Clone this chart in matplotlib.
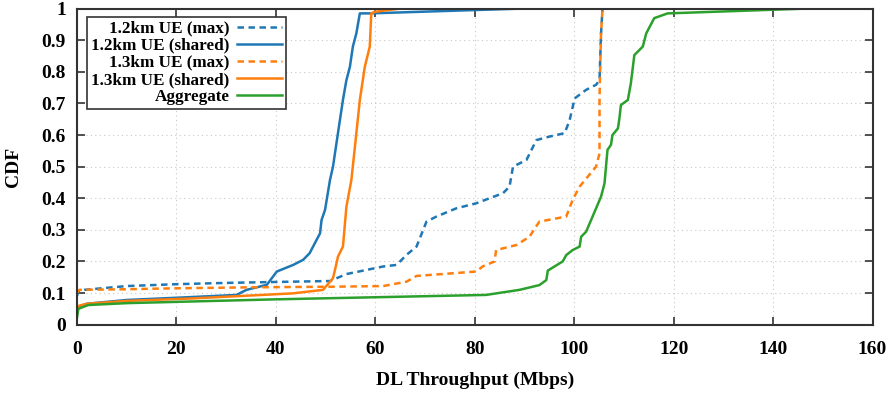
import matplotlib
matplotlib.use('Agg')
import matplotlib.pyplot as plt
from matplotlib.ticker import FuncFormatter

plt.rcParams['font.family'] = ['Liberation Serif', 'DejaVu Serif']

# 1.2km UE (max)
ue12_max_x = [0, 0.3, 1.5, 10, 20, 30, 40, 50.9, 54.2, 61.6, 64.3, 66.3, 68.3, 70.3, 72.3,
              76.3, 80.3, 85.7, 87.0, 87.7, 90.4, 92.4, 95.0, 98.1, 99.1, 100.1, 102.4,
              104.4, 105.1, 105.4, 105.7]
ue12_max_y = [0.09, 0.105, 0.11, 0.122, 0.128, 0.132, 0.135, 0.138, 0.160, 0.184, 0.189,
              0.221, 0.247, 0.326, 0.342, 0.368, 0.384, 0.416, 0.437, 0.500, 0.521, 0.584,
              0.595, 0.606, 0.648, 0.716, 0.743, 0.759, 0.774, 0.922, 1.0]

# 1.2km UE (shared)
ue12_sh_x = [0, 0.5, 2, 10, 20, 32.1, 34.1, 38.2, 40.2, 43.5, 45.5, 46.8, 48.9, 49.2, 49.9,
             50.9, 51.5, 52.5, 53.5, 54.2, 54.9, 55.5, 56.2, 56.9, 58.9, 89.0]
ue12_sh_y = [0.046, 0.058, 0.066, 0.078, 0.085, 0.094, 0.110, 0.126, 0.168, 0.189, 0.205,
             0.226, 0.289, 0.331, 0.363, 0.458, 0.500, 0.606, 0.711, 0.774, 0.816, 0.880,
             0.922, 0.985, 0.985, 1.0]

# 1.3km UE (max)
ue13_max_x = [0, 0.5, 10, 20, 34.8, 51.5, 61.6, 66.3, 68.3, 80.3, 81.6, 84.0, 84.3, 88.4,
              91.0, 93.0, 98.4, 99.7, 101.1, 104.4, 105.1, 105.1, 105.4, 105.7]
ue13_max_y = [0.10, 0.11, 0.112, 0.115, 0.118, 0.120, 0.122, 0.136, 0.154, 0.168, 0.184,
              0.200, 0.236, 0.252, 0.278, 0.326, 0.342, 0.395, 0.437, 0.500, 0.542, 0.72,
              0.922, 1.0]

# 1.3km UE (shared)
ue13_sh_x = [0, 0.5, 2, 10, 23.4, 43.5, 49.5, 51.5, 51.9, 52.5, 53.5, 54.2, 55.2, 56.2,
             56.9, 57.9, 58.9, 59.2, 59.9, 64.9]
ue13_sh_y = [0.05, 0.06, 0.066, 0.075, 0.083, 0.099, 0.110, 0.147, 0.173, 0.215, 0.247,
             0.373, 0.458, 0.606, 0.711, 0.816, 0.880, 0.985, 0.99, 1.0]

# Aggregate
agg_x = [0, 0.3, 2.3, 10, 40, 82.3, 89.0, 93.0, 94.4, 94.7, 97.7, 98.4, 99.7, 101.1, 101.4,
         102.4, 103.7, 104.7, 105.4, 106.1, 106.4, 106.7, 107.4, 107.7, 108.8, 109.1,
         109.4, 110.8, 111.4, 112.1, 113.8, 114.5, 116.1, 118.8, 146.2]
agg_y = [0.02, 0.05, 0.062, 0.068, 0.080, 0.094, 0.110, 0.125, 0.141, 0.171, 0.200, 0.220,
         0.236, 0.247, 0.278, 0.294, 0.342, 0.379, 0.405, 0.447, 0.500, 0.553, 0.569,
         0.600, 0.621, 0.653, 0.695, 0.711, 0.764, 0.853, 0.880, 0.922, 0.970, 0.985, 1.0]

blue = '#1f77b4'
orange = '#ff7f0e'
green = '#2ca02c'

fig = plt.figure(figsize=(8.94, 3.93), dpi=100)
ax = fig.add_axes([0.086, 0.174, 0.890, 0.804])

lw = 1.8
dash = (0, (2.6, 1.8))
ax.plot(ue12_max_x, ue12_max_y, color=blue, lw=lw, linestyle=dash, label='1.2km UE (max)')
ax.plot(ue12_sh_x, ue12_sh_y, color=blue, lw=lw, label='1.2km UE (shared)')
ax.plot(ue13_max_x, ue13_max_y, color=orange, lw=lw, linestyle=dash, label='1.3km UE (max)')
ax.plot(ue13_sh_x, ue13_sh_y, color=orange, lw=lw, label='1.3km UE (shared)')
ax.plot(agg_x, agg_y, color=green, lw=lw, label='Aggregate')

ax.set_xlim(0, 160)
ax.set_ylim(0, 1)
ax.set_xticks(range(0, 161, 20))
ax.set_yticks([i / 10 for i in range(11)])
ax.yaxis.set_major_formatter(FuncFormatter(lambda v, p: '%g' % v))
ax.grid(True, color='#c8c8c8', linestyle=(0, (1, 3)), linewidth=0.8)
ax.tick_params(direction='in', length=6, width=1.2, top=True, right=True,
               labelsize=14, colors='#333333')
ax.tick_params(axis='x', pad=12)
ax.tick_params(axis='y', pad=8)
for lab in ax.get_xticklabels() + ax.get_yticklabels():
    lab.set_fontweight('bold')
    lab.set_color('black')
for s in ax.spines.values():
    s.set_linewidth(1.5)
    s.set_color('#333333')

ax.set_xlabel('DL Throughput (Mbps)', fontsize=14, fontweight='bold', labelpad=10)
ax.set_ylabel('CDF', fontsize=14, fontweight='bold', labelpad=14)

leg = ax.legend(loc='upper left', bbox_to_anchor=(0.0126, 0.975), markerfirst=False,
                prop={'size': 12.3, 'weight': 'bold'}, frameon=True, fancybox=False,
                handlelength=2.6, labelspacing=0.06, borderpad=0.25,
                handletextpad=0.45, borderaxespad=0)
leg.get_frame().set_edgecolor('#333333')
leg.get_frame().set_linewidth(1.2)
leg.get_frame().set_alpha(1)

fig.savefig('out.png', dpi=100)
